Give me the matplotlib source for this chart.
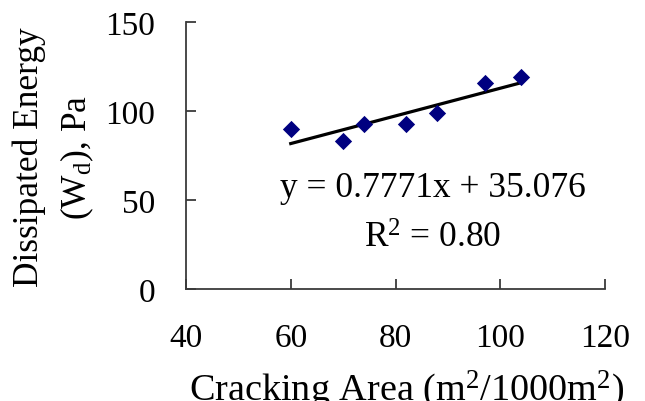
import numpy as np
import matplotlib
matplotlib.use("Agg")
import matplotlib.pyplot as plt

# data
cracking_area = [60, 70, 74, 82, 88, 97, 104]
dissipated_energy = [90, 83, 92.5, 92.5, 99, 115.5, 119]
slope = 0.7771
intercept = 35.076
r_squared = 0.80

x_ticks = [40, 60, 80, 100, 120]
y_ticks = [0, 50, 100, 150]

plt.rcParams['font.family'] = ['Liberation Serif', 'DejaVu Serif']
plt.rcParams['mathtext.fontset'] = 'custom'
plt.rcParams['mathtext.rm'] = 'Liberation Serif'
plt.rcParams['mathtext.it'] = 'Liberation Serif:italic'

fig = plt.figure(figsize=(6.45, 4.02), dpi=100)
ax = fig.add_axes([186 / 645, 112 / 402, 419 / 645, 267 / 402])

ax.scatter(cracking_area, dissipated_energy, marker='D', s=8.8 ** 2,
           color='#000080', zorder=3, linewidths=0)

# linear trend line
xs = np.array([min(cracking_area), max(cracking_area)])
ax.plot(xs, slope * xs + intercept, color='black', lw=2.3, zorder=2)

ax.set_xlim(x_ticks[0], x_ticks[-1])
ax.set_ylim(y_ticks[0], y_ticks[-1])
ax.set_xticks(x_ticks)
ax.set_yticks(y_ticks)

axis_color = '#3a3a3a'
for side in ['top', 'right']:
    ax.spines[side].set_visible(False)
for side in ['left', 'bottom']:
    ax.spines[side].set_color(axis_color)
    ax.spines[side].set_linewidth(1.3)

ax.tick_params(axis='both', direction='in', length=7.5, width=1.3,
               color=axis_color, labelsize=24)
ax.tick_params(axis='x', pad=24)
ax.tick_params(axis='y', pad=22)

# equation text
ax.text(0.5895, 0.35, f"y = {slope}x + {intercept}", transform=ax.transAxes,
        ha='center', va='baseline', fontsize=25.5)
ax.text(0.5895, 0.158, "R$^2$ = %.2f" % r_squared, transform=ax.transAxes,
        ha='center', va='baseline', fontsize=25.5)

# axis titles
fig.text(29 / 645, 245 / 402, "Dissipated Energy", rotation=90,
         ha='center', va='center', fontsize=25.5)
fig.text(77 / 645, 245 / 402, "(W$_{\\rm d}$), Pa", rotation=90,
         ha='center', va='center', fontsize=25.5)
fig.text(407 / 645, 2 / 402, "Cracking Area (m$^2$/1000m$^2$)",
         ha='center', va='baseline', fontsize=27.5)

fig.savefig("out.png", dpi=100)
